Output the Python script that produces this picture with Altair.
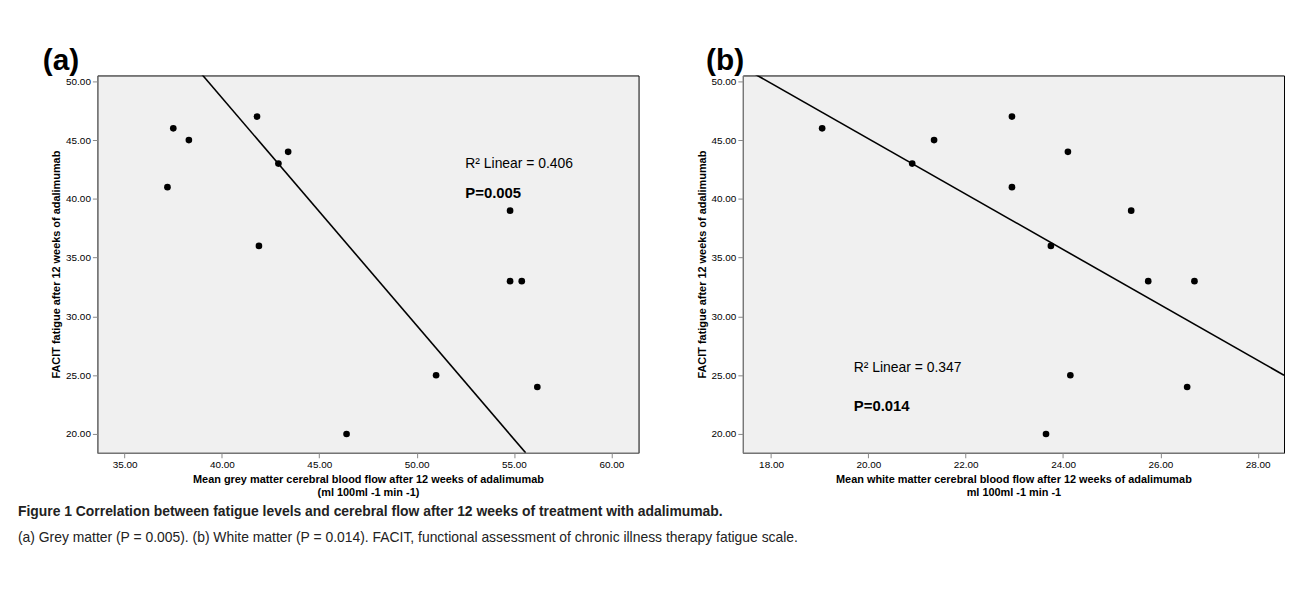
import altair as alt
import pandas as pd

# panel (a): grey matter
grey_cbf = [37.2, 37.5, 38.3, 41.8, 41.9, 42.9, 43.4, 46.4, 51.0, 54.8, 54.8, 55.4, 56.2]
grey_facit = [41, 46, 45, 47, 36, 43, 44, 20, 25, 39, 33, 33, 24]
grey_fit_x = [38.5, 55.6]
grey_fit_y = [51.5, 18.4]

# panel (b): white matter
white_cbf = [19.05, 20.9, 21.35, 22.95, 22.95, 23.65, 23.75, 24.1, 24.15, 25.4, 25.75, 26.55, 26.7]
white_facit = [46, 43, 45, 47, 41, 20, 36, 44, 25, 39, 33, 24, 33]
white_fit_x = [17.42, 28.54]
white_fit_y = [51.2, 25.0]

y_ticks = [20, 25, 30, 35, 40, 45, 50]
grey_ticks = [35, 40, 45, 50, 55, 60]
white_ticks = [18, 20, 22, 24, 26, 28]

FONT = "Liberation Sans"
YTITLE = "FACIT fatigue after 12 weeks of adalimumab"


def note(x, y, text, size, weight):
    d = pd.DataFrame({"x": [x], "y": [y], "t": [text]})
    return alt.Chart(d).mark_text(align="left", font=FONT, color="black",
                                  fontSize=size, fontWeight=weight).encode(
        x="x:Q", y="y:Q", text="t:N")


def panel(xs, ys, fx, fy, xdom, xticks, xtitle, label, r2, p, dx):
    df = pd.DataFrame({"x": xs, "y": ys})
    xenc = alt.X("x:Q", scale=alt.Scale(domain=xdom, nice=False, zero=False),
                 axis=alt.Axis(values=xticks, format=".2f", title=xtitle, grid=False))
    yenc = alt.Y("y:Q", scale=alt.Scale(domain=[18.4, 50.5], nice=False, zero=False),
                 axis=alt.Axis(values=y_ticks, format=".2f", title=YTITLE, grid=False))
    pts = alt.Chart(df).mark_circle(size=45, color="black", opacity=1).encode(x=xenc, y=yenc)
    fit = (
        alt.Chart(pd.DataFrame({"x": fx, "y": fy}))
        .mark_line(color="black", strokeWidth=1.6, clip=True)
        .encode(x=xenc, y=yenc)
    )
    return alt.layer(pts, fit, note(*r2, 14, "normal"), note(*p, 15, "bold")).properties(
        width=545, height=380,
        view=alt.ViewConfig(fill="#f0f0f0", stroke="black", strokeWidth=1),
        title=alt.TitleParams(label, anchor="start", fontSize=30, font=FONT,
                              fontWeight="bold", offset=0, dx=dx),
    )


left = panel(grey_cbf, grey_facit, grey_fit_x, grey_fit_y, [33.6, 61.4], grey_ticks,
             ["Mean grey matter cerebral blood flow after 12 weeks of adalimumab",
              "(ml 100ml -1 min -1)"], "(a)",
             (52.5, 43, "R² Linear = 0.406"), (52.5, 40.5, "P=0.005"), -8)
right = panel(white_cbf, white_facit, white_fit_x, white_fit_y, [17.42, 28.54], white_ticks,
              ["Mean white matter cerebral blood flow after 12 weeks of adalimumab",
               "ml 100ml -1 min -1"], "(b)",
              (19.7, 25.6, "R² Linear = 0.347"), (19.7, 22.4, "P=0.014"), 10)

cap_lines = [
    "Figure 1 Correlation between fatigue levels and cerebral flow after 12 weeks of treatment with adalimumab.",
    "(a) Grey matter (P = 0.005). (b) White matter (P = 0.014). FACIT, functional assessment of chronic illness therapy fatigue scale.",
]


def cap_line(text, y, weight):
    return alt.Chart(pd.DataFrame({"t": [text]})).mark_text(
        align="left", baseline="top", fontSize=14, font=FONT, color="#222", fontWeight=weight
    ).encode(x=alt.value(-80), y=alt.value(y), text="t:N")


caption = alt.layer(cap_line(cap_lines[0], 0, "bold"), cap_line(cap_lines[1], 26, "normal")).properties(
    width=1000, height=45, view=alt.ViewConfig(fill="white", strokeWidth=0))

chart = (
    alt.vconcat(alt.hconcat(left, right, spacing=56), caption, spacing=7)
    .configure_axis(labelFont=FONT, titleFont=FONT, labelFontSize=10, titleFontSize=12,
                    titleFontWeight="bold", labelColor="black", titleColor="black",
                    domain=False, tickColor="black", tickSize=4)
    .configure(padding={"left": 10, "top": 35, "right": 0, "bottom": 5})
)
chart.save("out.html", embed_options={"renderer": "svg", "actions": False})
